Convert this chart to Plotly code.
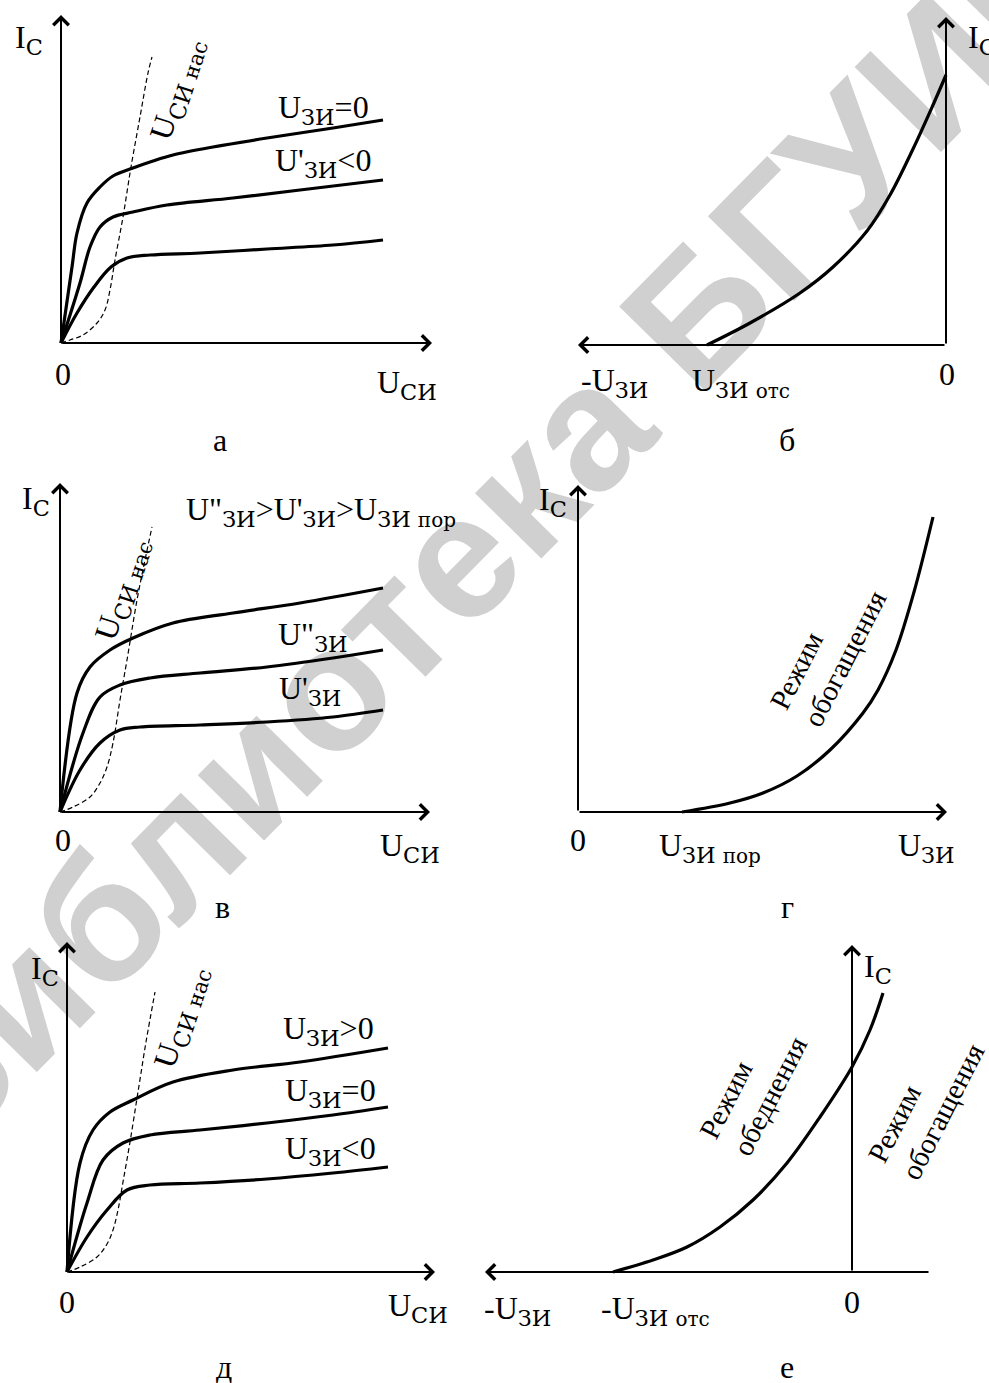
import plotly.graph_objects as go

W, H = 989, 1383
SERIF = "Liberation Serif"
SUBFONT = "DejaVu Serif"

# ---------------- data (arbitrary units) ----------------
# Panel а : output characteristics, depletion-mode FET
a_top_u = [0, 11, 16, 26, 39, 52, 72, 92, 112, 152, 206, 272, 322]
a_top_i = [0, 76, 110, 140, 156, 167, 175, 182, 188, 196, 205, 215, 223]
a_mid_u = [0, 19, 29, 39, 52, 72, 106, 172, 239, 322]
a_mid_i = [0, 60, 96, 116, 126, 131, 138, 145, 153, 163]
a_low_u = [0, 16, 33, 50, 66, 89, 139, 206, 272, 322]
a_low_i = [0, 30, 56, 76, 85, 88, 90, 94, 98, 103]
a_sat_u = [0, 9, 22, 36, 44, 49, 54, 62, 70, 79, 87, 91]
a_sat_i = [0, 3, 8, 20, 33, 53, 83, 126, 176, 226, 270, 286]

# Panel б : transfer characteristic (U_ЗИ negative)
b_u = [-239, -196, -146, -113, -79, -56, -33, -13, 0]
b_i = [0, 22, 52, 78, 114, 150, 196, 240, 270]

# Panel в : output characteristics, enhancement-mode FET
v_top_u = [0, 17, 30, 50, 73, 113, 173, 240, 323]
v_top_i = [0, 119, 145, 162, 174, 189, 199, 209, 224]
v_mid_u = [0, 23, 40, 60, 90, 140, 207, 273, 323]
v_mid_i = [0, 79, 115, 127, 134, 139, 145, 154, 162]
v_low_u = [0, 20, 40, 60, 80, 140, 207, 273, 323]
v_low_i = [0, 42, 69, 82, 85, 87, 90, 95, 102]
v_sat_u = [0, 13, 30, 40, 47, 53, 60, 67, 77, 85, 92]
v_sat_i = [0, 5, 15, 29, 45, 69, 112, 152, 212, 252, 285]

# Panel г : transfer characteristic, enhancement mode
g_u = [104, 152, 185, 219, 252, 285, 300, 318, 336, 355]
g_i = [0, 9, 19, 36, 62, 99, 122, 162, 220, 295]

# Panel д : output characteristics, built-in channel
d_top_u = [0, 13, 26, 43, 66, 106, 166, 233, 321]
d_top_i = [0, 109, 142, 160, 172, 190, 202, 210, 224]
d_mid_u = [0, 20, 36, 56, 83, 133, 200, 266, 321]
d_mid_i = [0, 69, 112, 129, 137, 142, 149, 157, 165]
d_low_u = [0, 20, 40, 60, 83, 133, 200, 266, 321]
d_low_i = [0, 35, 62, 82, 87, 89, 93, 99, 105]
d_sat_u = [0, 13, 30, 40, 46, 51, 56, 63, 71, 79, 88]
d_sat_i = [0, 5, 15, 28, 42, 62, 90, 130, 180, 230, 280]

# Panel е : transfer characteristic, built-in channel
e_u = [-239, -199, -165, -132, -99, -65, -32, 0, 18, 31]
e_i = [0, 12, 25, 45, 72, 109, 155, 205, 242, 279]

# ---------------- layout: one overlaid axis pair per panel ----------------
PANELS = ["a", "b", "v", "g", "d", "e"]
ORIGIN = {"a": (61, 343), "b": (946, 345), "v": (60, 812),
          "g": (578, 812), "d": (67, 1272), "e": (852, 1272)}
AXIS_TIPS = {  # (x-axis tail, x-axis tip, y-axis tip) in panel units
    "a": (0, 371, 328), "b": (0, -368, 328), "v": (0, 370, 329),
    "g": (0, 369, 327), "d": (0, 368, 330), "e": (78, -367, 327)}

fig = go.Figure()
layout = dict(width=W, height=H, margin=dict(l=0, r=0, t=0, b=0),
              paper_bgcolor="white", plot_bgcolor="rgba(0,0,0,0)",
              showlegend=False, autosize=False)
ax_ref = {}
for k, key in enumerate(PANELS):
    ox, oy = ORIGIN[key]
    n = "" if k == 0 else str(k + 1)
    xa = dict(range=[-ox, W - ox], visible=False, domain=[0, 1], fixedrange=True)
    ya = dict(range=[oy - H, oy], visible=False, domain=[0, 1], fixedrange=True)
    if k > 0:
        xa["overlaying"] = "x"
        ya["overlaying"] = "y"
        xa["anchor"] = "y" + n
        ya["anchor"] = "x" + n
    layout["xaxis" + n] = xa
    layout["yaxis" + n] = ya
    ax_ref[key] = ("x" + n, "y" + n)
fig.update_layout(**layout)


def curve(key, u, i, dashed=False):
    xr, yr = ax_ref[key]
    fig.add_trace(go.Scatter(
        x=u, y=i, mode="lines", xaxis=xr, yaxis=yr, hoverinfo="skip",
        line=dict(color="black", width=1.2 if dashed else 3.2,
                  dash="5px,3px" if dashed else "solid",
                  shape="spline", smoothing=1.0)))


curve("a", a_sat_u, a_sat_i, True)
curve("a", a_top_u, a_top_i)
curve("a", a_mid_u, a_mid_i)
curve("a", a_low_u, a_low_i)
curve("b", b_u, b_i)
curve("v", v_sat_u, v_sat_i, True)
curve("v", v_top_u, v_top_i)
curve("v", v_mid_u, v_mid_i)
curve("v", v_low_u, v_low_i)
curve("g", g_u, g_i)
curve("d", d_sat_u, d_sat_i, True)
curve("d", d_top_u, d_top_i)
curve("d", d_mid_u, d_mid_i)
curve("d", d_low_u, d_low_i)
curve("e", e_u, e_i)

# axes with open arrowheads
for key in PANELS:
    xr, yr = ax_ref[key]
    tail, xtip, ytip = AXIS_TIPS[key]
    for (x0, y0, x1, y1) in [(tail, 0, xtip, 0), (0, 0, 0, ytip)]:
        fig.add_annotation(x=x1, y=y1, ax=x0, ay=y0, xref=xr, yref=yr,
                           axref=xr, ayref=yr, text="", showarrow=True,
                           arrowhead=4, arrowsize=1.5, arrowwidth=2,
                           arrowcolor="black", standoff=0, startstandoff=0)


def label(text, x, y, size=32, angle=0, xanchor="center", align="center"):
    fig.add_annotation(text=text, x=x / W, y=1 - y / H, xref="paper", yref="paper",
                       showarrow=False, textangle=angle, xanchor=xanchor,
                       yanchor="middle", align=align,
                       font=dict(family=SERIF, size=size, color="black"))


def sub(s, small=None, small_size=20):
    inner = s if small is None else s + " <span style='font-size:%dpx'>%s</span>" % (small_size, small)
    return "<sub><span style='font-family:%s'>%s</span></sub>" % (SUBFONT, inner)


IC = "I" + sub("C")
UZI = "U" + sub("ЗИ")
USI = "U" + sub("СИ")

# Panel а
label(IC, 29, 40)
label("0", 63, 374)
label(USI, 407, 385)
label("U" + sub("СИ", "нас", 21), 178, 90, angle=-72)
label(UZI + "=0", 323, 110)
label("U'" + sub("ЗИ") + "&lt;0", 323, 162)
label("а", 220, 440)

# Panel б
label(IC, 966, 40, xanchor="left")
label("-" + UZI, 614, 382)
label("U" + sub("ЗИ", "отс", 20), 741, 382)
label("0", 947, 374)
label("б", 787, 440)

# Panel в
label(IC, 36, 500)
label("U\"" + sub("ЗИ") + "&gt;U'" + sub("ЗИ") + "&gt;U" + sub("ЗИ", "пор", 20),
      184, 512, xanchor="left")
label("U" + sub("СИ", "нас", 21), 122, 590, angle=-72)
label("U\"" + sub("ЗИ"), 313, 636)
label("U'" + sub("ЗИ"), 310, 690)
label("0", 63, 840)
label(USI, 410, 847)
label("в", 222, 907)

# Panel г
label(IC, 553, 502)
label("Режим<br>обогащения", 828, 650, size=29, angle=-63, align="left")
label("0", 578, 840)
label("U" + sub("ЗИ", "пор", 20), 710, 847)
label(UZI, 926, 847)
label("г", 787, 907)

# Panel д
label(IC, 45, 970)
label("U" + sub("СИ", "нас", 21), 182, 1018, angle=-72)
label(UZI + "&gt;0", 328, 1030)
label(UZI + "=0", 330, 1092)
label(UZI + "&lt;0", 330, 1150)
label("0", 67, 1302)
label(USI, 418, 1307)
label("д", 224, 1367)

# Panel е
label(IC, 862, 968, xanchor="left")
label("Режим<br>обеднения", 753, 1088, size=29, angle=-63, align="left")
label("Режим<br>обогащения", 926, 1103, size=29, angle=-63, align="left")
label("-" + UZI, 517, 1310)
label("-U" + sub("ЗИ", "отс", 20), 655, 1310)
label("0", 852, 1302)
label("е", 787, 1367)

# watermark (drawn beneath the curves)
wx, wy, wl = 466, 524, 300
fig.add_shape(type="line", xref="paper", yref="paper",
              x0=(wx - wl * 0.70) / W, y0=1 - (wy + wl * 0.71) / H,
              x1=(wx + wl * 0.70) / W, y1=1 - (wy - wl * 0.71) / H,
              line=dict(color="rgba(0,0,0,0)", width=1), layer="below",
              label=dict(text="<b>Библиотека БГУИР</b>", textangle=-45.5,
                         textposition="middle", xanchor="center", yanchor="middle",
                         font=dict(family="Liberation Sans", size=176, color="#d0d0d0")))

fig.write_html("out.html", config={"displayModeBar": False},
               post_script="document.body.style.margin='0';")
